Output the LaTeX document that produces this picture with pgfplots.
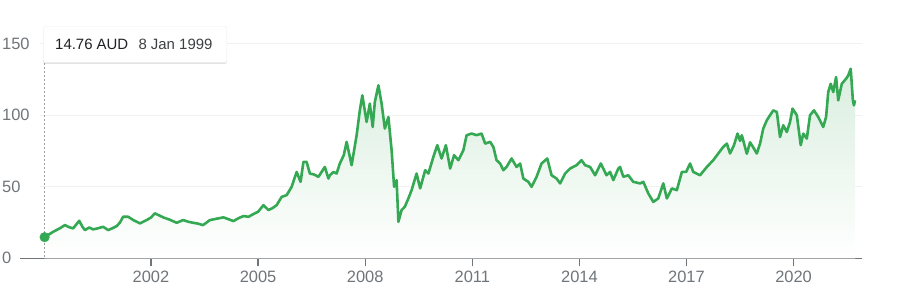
\documentclass[border=0pt]{standalone}
\usepackage{pgfplots}
\pgfplotsset{compat=1.18}
\usepackage{pgfplotstable}
\usepackage{fontspec}
\setmainfont{Liberation Sans}
\usetikzlibrary{shadows}
\definecolor{gline}{HTML}{34A853}
\definecolor{gfill}{RGB}{218,238,223}
\definecolor{tickgray}{HTML}{70757A}
\definecolor{gridc}{HTML}{F1F1F1}
\definecolor{dotgray}{HTML}{9AA0A6}
\definecolor{txtdark}{HTML}{202124}
\definecolor{txtgray}{HTML}{3C4043}

\pgfplotstableread{
t v
1999.02 14.76
1999.26 18.5
1999.45 21.0
1999.59 23.2
1999.70 21.8
1999.82 20.9
1999.99 26.2
2000.08 22.0
2000.15 19.7
2000.27 21.5
2000.38 20.2
2000.52 21.0
2000.66 22.0
2000.80 19.7
2000.92 21.0
2001.04 22.5
2001.13 25.0
2001.22 29.0
2001.36 29.0
2001.52 26.5
2001.69 24.4
2001.88 26.7
2002.00 28.5
2002.11 31.4
2002.34 28.6
2002.52 27.0
2002.72 24.8
2002.90 26.7
2003.05 25.5
2003.18 24.8
2003.32 24.2
2003.46 23.2
2003.65 26.7
2003.89 27.9
2004.03 28.6
2004.17 27.3
2004.31 26.0
2004.45 28.0
2004.59 29.5
2004.73 29.0
2004.87 30.9
2005.00 32.5
2005.15 37.1
2005.29 33.7
2005.40 35.0
2005.52 37.1
2005.66 42.9
2005.80 44.1
2005.94 49.9
2006.08 60.3
2006.19 53.4
2006.27 67.3
2006.36 67.3
2006.45 59.2
2006.57 58.5
2006.69 56.9
2006.87 63.8
2006.97 55.7
2007.01 58.0
2007.11 60.3
2007.20 59.2
2007.29 66.2
2007.40 72.0
2007.48 81.3
2007.62 65.0
2007.76 85.9
2007.85 103.3
2007.92 113.8
2008.04 95.2
2008.13 108.0
2008.21 91.7
2008.27 109.1
2008.37 120.8
2008.46 108.0
2008.55 90.6
2008.65 98.7
2008.74 75.5
2008.81 49.9
2008.88 54.6
2008.93 25.5
2009.02 33.7
2009.11 36.0
2009.21 41.8
2009.30 47.6
2009.44 59.2
2009.54 48.8
2009.68 61.5
2009.77 59.2
2009.91 70.8
2010.02 79.0
2010.14 69.7
2010.26 79.0
2010.38 62.7
2010.49 72.0
2010.61 68.5
2010.75 75.5
2010.84 85.9
2010.98 87.1
2011.12 86.0
2011.26 87.1
2011.36 80.1
2011.50 81.3
2011.59 77.8
2011.68 68.5
2011.78 66.2
2011.87 61.5
2011.96 63.8
2012.10 69.7
2012.24 63.8
2012.34 66.2
2012.43 55.7
2012.57 53.4
2012.66 49.9
2012.80 56.9
2012.94 66.2
2013.10 69.7
2013.22 58.0
2013.36 55.7
2013.46 52.3
2013.60 59.2
2013.74 62.7
2013.92 65.0
2014.06 68.5
2014.16 65.0
2014.30 63.8
2014.44 58.0
2014.60 66.2
2014.76 58.0
2014.86 60.3
2014.95 54.6
2015.09 62.7
2015.14 63.8
2015.23 56.9
2015.37 58.0
2015.51 53.4
2015.70 52.3
2015.79 53.4
2015.93 45.3
2016.07 39.4
2016.21 41.8
2016.35 52.3
2016.45 41.8
2016.59 48.8
2016.73 47.6
2016.87 60.3
2016.99 60.3
2017.10 66.2
2017.19 60.3
2017.38 58.0
2017.57 63.8
2017.75 68.5
2017.89 73.2
2018.03 77.8
2018.13 80.1
2018.22 73.2
2018.33 79.0
2018.43 87.1
2018.50 82.0
2018.55 85.9
2018.69 73.0
2018.78 81.0
2018.88 77.0
2018.97 73.2
2019.06 80.1
2019.15 90.6
2019.25 96.4
2019.34 99.9
2019.43 103.3
2019.53 102.2
2019.62 84.7
2019.71 92.9
2019.81 88.2
2019.90 95.2
2019.97 104.5
2020.09 99.9
2020.20 79.0
2020.27 87.1
2020.37 83.6
2020.46 99.9
2020.57 103.3
2020.69 98.7
2020.83 91.7
2020.91 98.7
2020.97 116.1
2021.04 121.9
2021.11 116.1
2021.19 126.6
2021.25 110.3
2021.35 121.9
2021.47 125.4
2021.53 127.7
2021.60 132.4
2021.66 110.3
2021.69 106.8
2021.72 110.3
}\stockdata

\begin{document}
\begin{tikzpicture}
\begin{axis}[
  at={(20bp,47.7bp)}, anchor=south west,
  scale only axis, width=842bp, height=214.8bp,
  xmin=1998.331, xmax=2021.916, ymin=0, ymax=150,
  axis lines*=left,
  x axis line style={draw=tickgray, line width=1.2bp},
  y axis line style={draw=none},
  xtick={2002,2005,2008,2011,2014,2017,2020},
  xticklabels={2002,2005,2008,2011,2014,2017,2020},
  ytick={0,50,100,150},
  yticklabels={0,50,100,150},
  tick align=outside,
  major tick length=8bp,
  xtick style={draw=tickgray, line width=1.2bp},
  ytick style={draw=none},
  /pgf/number format/assume math mode=true,
  ticklabel style={font=\fontsize{16.5}{19}\selectfont, text=tickgray, inner sep=0pt},
  xticklabel style={anchor=north, yshift=-5bp},
  yticklabel style={anchor=west, xshift=-10bp},
  clip=false,
]
\draw[gridc, line width=1bp] (axis cs:1998.89,50) -- (axis cs:2021.916,50);
\draw[gridc, line width=1bp] (axis cs:1998.89,100) -- (axis cs:2021.916,100);
\draw[gridc, line width=1bp] (axis cs:1998.89,150) -- (axis cs:2021.916,150);
\addplot[draw=none, top color=gfill, bottom color=white, forget plot] table[x=t,y=v]{\stockdata} \closedcycle;
\draw[dotgray, line width=1.6bp, dash pattern=on 2bp off 2bp] (axis cs:1999.02,1) -- (axis cs:1999.02,137);
\addplot[gline, line width=2.6bp, line join=round, no marks] table[x=t,y=v]{\stockdata};
\addplot[only marks, mark=*, mark size=4.8bp, gline, mark options={draw=gline, fill=gline}] coordinates {(1999.02,14.76)};
\end{axis}
\node[draw=black!7, fill=white, rounded corners=2bp, drop shadow={opacity=0.22, shadow xshift=0bp, shadow yshift=-1.5bp}, minimum width=183.4bp, minimum height=36bp, inner sep=0pt, anchor=south west] at (43.3bp,243.3bp) {};
\node[anchor=base west, inner sep=0pt, text=txtdark, font=\fontsize{15}{18}\selectfont] at (55bp,256.5bp) {14.76 AUD};
\node[anchor=base west, inner sep=0pt, text=txtgray, font=\fontsize{15}{18}\selectfont] at (138.3bp,256.5bp) {8 Jan 1999};
\pgfresetboundingbox
\path[use as bounding box] (0,0) rectangle (902bp,306bp);
\end{tikzpicture}
\end{document}
